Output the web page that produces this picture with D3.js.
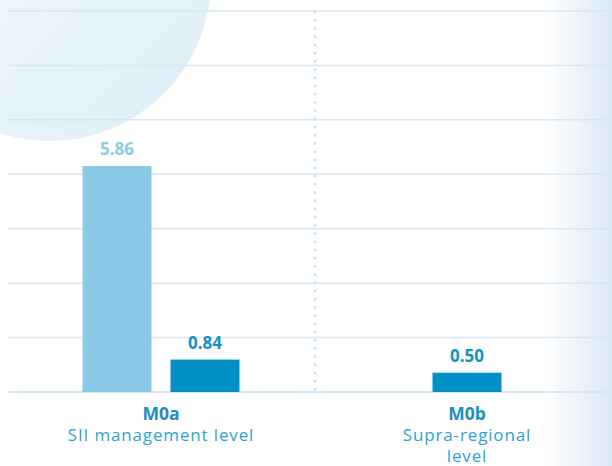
<!DOCTYPE html>
<html>
<head>
<meta charset="utf-8">
<script src="https://cdn.jsdelivr.net/npm/d3@7"></script>
<style>
  html, body { margin: 0; padding: 0; background: #ffffff; }
  svg { display: block; }
  text { font-family: "Open Sans", Lato, sans-serif; }
</style>
</head>
<body>
<svg id="chart" width="612" height="466"></svg>
<script>
// ---- data ----
const categories = ["M0a", "M0b"];
const subtitles = [["SII management level"], ["Supra-regional", "level"]];
const seriesNames = ["light", "dark"];
const lightValues = [5.86, null];
const darkValues = [0.84, 0.50];
const gridCount = 7;

// ---- setup ----
const W = 612, H = 466;
const svg = d3.select("#chart");
const defs = svg.append("defs");

const rightGrad = defs.append("linearGradient").attr("id", "rightGrad")
  .attr("x1", "0").attr("x2", "1").attr("y1", "0").attr("y2", "0");
rightGrad.append("stop").attr("offset", "0").attr("stop-color", "#ffffff");
rightGrad.append("stop").attr("offset", "1").attr("stop-color", "#dce9f5");

const circGrad = defs.append("linearGradient").attr("id", "circGrad")
  .attr("x1", "0.15").attr("y1", "0.15").attr("x2", "0.85").attr("y2", "0.85");
circGrad.append("stop").attr("offset", "0").attr("stop-color", "#ffffff");
circGrad.append("stop").attr("offset", "0.55").attr("stop-color", "#e9f4fa");
circGrad.append("stop").attr("offset", "1").attr("stop-color", "#e1f0f8");

svg.append("rect").attr("x", 543).attr("y", 0).attr("width", W - 543).attr("height", H)
  .attr("fill", "url(#rightGrad)");
svg.append("circle").attr("cx", 50).attr("cy", -20).attr("r", 161)
  .attr("fill", "url(#circGrad)");

// ---- scales ----
const baseY = 392, plotTop = 11;
const x0 = d3.scaleBand().domain(categories).range([8, 620]).padding(0);
const pairWidth = 157;
const x1 = d3.scaleBand().domain(seriesNames).range([0, pairWidth]).paddingInner(0.216).paddingOuter(0);
const y = d3.scaleLinear().domain([0, 5.86]).range([baseY, 166]);
const gy = d3.scaleLinear().domain([0, gridCount]).range([baseY, plotTop]);

// gridlines
svg.append("g").selectAll("line").data(d3.range(1, gridCount + 1)).join("line")
  .attr("x1", 8).attr("x2", W)
  .attr("y1", d => gy(d)).attr("y2", d => gy(d))
  .attr("stroke", "#d5e8f5").attr("stroke-width", 1.5);

// separator
const sepX = x0(categories[1]) + 1;
svg.append("line").attr("x1", sepX).attr("x2", sepX)
  .attr("y1", gy(gridCount)).attr("y2", baseY)
  .attr("stroke", "#cbe2f2").attr("stroke-width", 2.6)
  .attr("stroke-dasharray", "2.4 5.8").attr("stroke-linecap", "butt");

// baseline
svg.append("line").attr("x1", 8).attr("x2", W).attr("y1", baseY).attr("y2", baseY)
  .attr("stroke", "#d5e8f5").attr("stroke-width", 1.8);

// bars
const colors = { light: "#8cc8e7", dark: "#0090c5" };
const labelColors = { light: "#8ecbe9", dark: "#1590c5" };
categories.forEach((cat, i) => {
  const vals = [
    { key: "light", v: lightValues[i] },
    { key: "dark", v: darkValues[i] }
  ].filter(d => d.v != null);
  const bw = x1.bandwidth();
  const center = x0(cat) + x0.bandwidth() / 2;
  const g = svg.append("g");
  const xpos = d => {
    if (vals.length === 2) return center - pairWidth / 2 + x1(d.key);
    return center - bw / 2;
  };
  g.selectAll("rect").data(vals).join("rect")
    .attr("x", xpos).attr("width", bw)
    .attr("y", d => y(d.v)).attr("height", d => baseY - y(d.v))
    .attr("fill", d => colors[d.key]);
  g.selectAll("text").data(vals).join("text")
    .attr("x", d => xpos(d) + bw / 2)
    .attr("y", d => y(d.v) - 11)
    .attr("text-anchor", "middle")
    .attr("font-size", 17).attr("font-weight", 700)
    .attr("fill", d => labelColors[d.key])
    .text(d => d.v.toFixed(2));

  // category labels
  svg.append("text").attr("x", center).attr("y", 420)
    .attr("text-anchor", "middle").attr("font-size", 17.5).attr("font-weight", 700)
    .attr("fill", "#1b8ec3").text(cat);
  svg.append("g").selectAll("text").data(subtitles[i]).join("text")
    .attr("x", center).attr("y", (d, j) => 441 + j * 21)
    .attr("text-anchor", "middle").attr("font-size", 17)
    .attr("letter-spacing", 0.85)
    .attr("fill", "#2ea2d6").text(d => d);
});
</script>
</body>
</html>
